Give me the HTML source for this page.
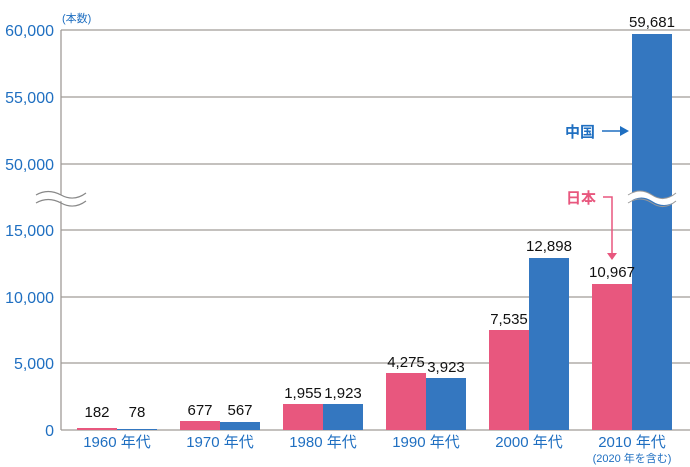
<!DOCTYPE html>
<html><head><meta charset="utf-8"><style>
body{margin:0;background:#fff}
svg{display:block;font-family:"Liberation Sans","Noto Sans CJK JP",sans-serif}
</style></head><body>
<svg width="690" height="467" viewBox="0 0 690 467">
<g stroke="#a09c98" stroke-width="1.3">
<line x1="61" y1="30" x2="690" y2="30"/>
<line x1="61" y1="97" x2="690" y2="97"/>
<line x1="61" y1="164" x2="690" y2="164"/>
<line x1="61" y1="230" x2="690" y2="230"/>
<line x1="61" y1="297" x2="690" y2="297"/>
<line x1="61" y1="363" x2="690" y2="363"/>
<line x1="61" y1="430" x2="690" y2="430"/>
<line x1="61" y1="30" x2="61" y2="430"/>
</g>
<g font-size="16" fill="#1f6fc1" text-anchor="end">
<text x="54" y="36">60,000</text><text x="54" y="103">55,000</text><text x="54" y="170">50,000</text>
<text x="54" y="236">15,000</text><text x="54" y="303">10,000</text><text x="54" y="369">5,000</text><text x="54" y="436">0</text>
</g>
<text x="62" y="22" font-size="11" fill="#1f6fc1">(本数)</text>
<path d="M36 195 Q48 188 61 195 T86 193 L86 201 Q73 208 61 201 T36 203 Z" fill="#fff"/>
<path d="M36 195 Q48 188 61 195 T86 193 M36 203 Q48 196 61 203 T86 201" fill="none" stroke="#888" stroke-width="1.2"/>
<g fill="#e8577e">
<rect x="77" y="428" width="40" height="2"/>
<rect x="180" y="421" width="40" height="9"/>
<rect x="283" y="404" width="40" height="26"/>
<rect x="386" y="373" width="40" height="57"/>
<rect x="489" y="330" width="40" height="100"/>
<rect x="592" y="284" width="40" height="146"/>
</g>
<g fill="#3477c0">
<rect x="117" y="429" width="40" height="1"/>
<rect x="220" y="422" width="40" height="8"/>
<rect x="323" y="404" width="40" height="26"/>
<rect x="426" y="378" width="40" height="52"/>
<rect x="529" y="258" width="40" height="172"/>
<rect x="632" y="34" width="40" height="396"/>
</g>
<path d="M628 195 Q640 187 652 195 T676 193 L676 201 Q664 209 652 201 T628 203 Z" fill="#fff"/>
<path d="M628 195 Q640 187 652 195 T676 193 M628 203 Q640 195 652 203 T676 201" fill="none" stroke="#999" stroke-width="1"/>
<g font-size="15" fill="#111" text-anchor="middle">
<text x="97" y="417">182</text><text x="137" y="417">78</text>
<text x="200" y="415">677</text><text x="240" y="415">567</text>
<text x="303" y="398">1,955</text><text x="343" y="398">1,923</text>
<text x="406" y="367">4,275</text><text x="446" y="372">3,923</text>
<text x="509" y="324">7,535</text><text x="549" y="251">12,898</text>
<text x="612" y="277">10,967</text><text x="652" y="27">59,681</text>
</g>
<g font-size="15" fill="#1f6fc1" text-anchor="middle">
<text x="117" y="447">1960 年代</text><text x="220" y="447">1970 年代</text><text x="323" y="447">1980 年代</text>
<text x="426" y="447">1990 年代</text><text x="529" y="447">2000 年代</text><text x="632" y="447">2010 年代</text>
<text x="632" y="462" font-size="11">(2020 年を含む)</text>
</g>
<text x="580" y="137" font-size="15" font-weight="bold" fill="#1f6fc1" text-anchor="middle">中国</text>
<line x1="602" y1="131" x2="622" y2="131" stroke="#1f6fc1" stroke-width="1.5"/>
<path d="M620 126 L629 131 L620 136 Z" fill="#1f6fc1"/>
<text x="581" y="203" font-size="15" font-weight="bold" fill="#e8577e" text-anchor="middle">日本</text>
<path d="M603 197 L612 197 L612 255" fill="none" stroke="#e8577e" stroke-width="1.5"/>
<path d="M607 253 L617 253 L612 260 Z" fill="#e8577e"/>
</svg>
</body></html>
